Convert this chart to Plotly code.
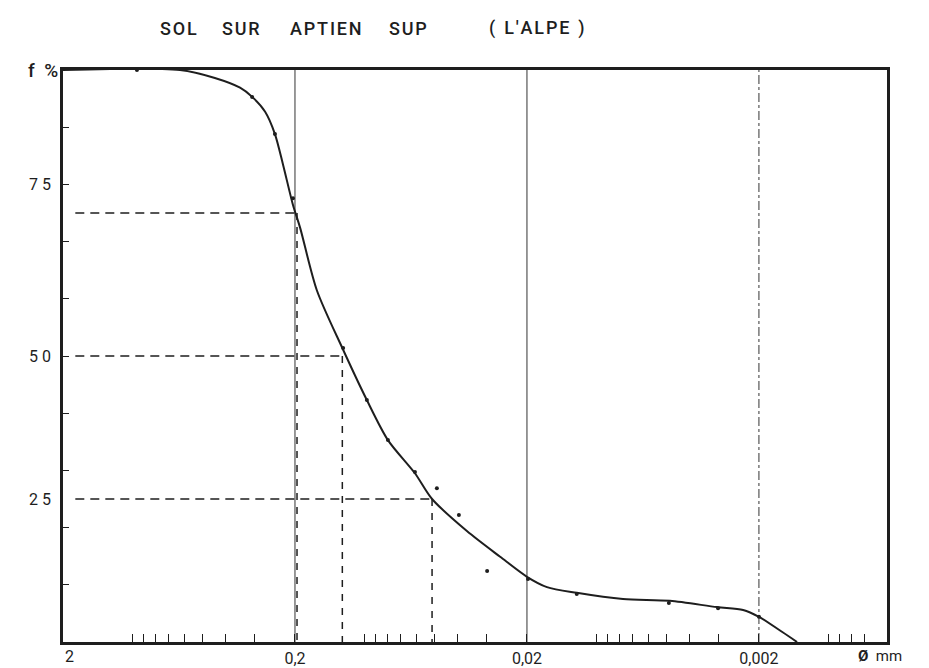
import math
import plotly.graph_objects as go

# ---------------- data ----------------
title_words = ["SOL", "SUR", "APTIEN", "SUP", "( L'ALPE )"]

# measured points (diameter mm, cumulative %)
point_d = [0.96, 0.306, 0.244, 0.204, 0.124, 0.098, 0.0795, 0.0608, 0.0489, 0.0393,
           0.0297, 0.0198, 0.0122, 0.00489, 0.0030, 0.0020]
point_f = [100, 95.3, 88.8, 77.6, 51.4, 42.3, 35.3, 29.7, 26.9, 22.2,
           12.4, 11.0, 8.4, 6.8, 5.9, 4.4]

# smoothed curve
curve_d = [2.0, 0.626, 0.443, 0.345, 0.306, 0.269, 0.244, 0.225, 0.204, 0.190, 0.161,
           0.125, 0.098, 0.0795, 0.0608, 0.0513, 0.0363, 0.0261, 0.020, 0.0164, 0.0122,
           0.00771, 0.00484, 0.00303, 0.00234, 0.0020, 0.00158, 0.00137]
curve_f = [100, 100, 98.6, 96.9, 95.3, 92.7, 88.8, 83.4, 76.4, 72.4, 61.5,
           51.4, 42.3, 35.3, 29.5, 25.0, 19.4, 14.9, 11.4, 9.6, 8.6,
           7.5, 7.2, 6.1, 5.6, 4.4, 1.7, 0.0]

# quartile guide lines (percent, diameter read on curve)
quart_f = [75, 50, 25]
quart_d = [0.196, 0.125, 0.0513]
guide_start_d = 1.77

major_d = [2, 0.2, 0.02, 0.002]
major_text = ["", "0,2", "0,02", "0,002"]
minor_d = [1, 0.9, 0.8, 0.7, 0.6, 0.5, 0.4, 0.3,
           0.1, 0.09, 0.08, 0.07, 0.06, 0.05, 0.04, 0.03,
           0.01, 0.009, 0.008, 0.007, 0.006, 0.005, 0.004, 0.003,
           0.001, 0.0009, 0.0008, 0.0007]
y_ticks = [0, 10, 20, 30, 40, 50, 60, 70, 80, 90, 100]
y_label_pos = [80, 50, 25]
y_label_text = ["7 5", "5 0", "2 5"]

x_min_d = 0.000561
ink = "#1e1e1e"
FONT = "Roboto, Liberation Sans, sans-serif"

W, H = 929, 668
L, R, T, B = 63, 42, 70, 26
plot_w, plot_h = W - L - R, H - T - B

fig = go.Figure()

# decade grid lines
grid_styles = {0.2: "solid", 0.02: "solid", 0.002: "dashdot"}
for d, dash in grid_styles.items():
    fig.add_trace(go.Scatter(x=[d, d], y=[0, 100], mode="lines",
                             line=dict(color="#333333", width=1, dash=dash),
                             hoverinfo="skip", showlegend=False))

# quartile guides
for f, d in zip(quart_f, quart_d):
    fig.add_trace(go.Scatter(x=[guide_start_d, d], y=[f, f], mode="lines",
                             line=dict(color=ink, width=1.5, dash="9px,6px"),
                             hoverinfo="skip", showlegend=False))
    fig.add_trace(go.Scatter(x=[d, d], y=[f, 0], mode="lines",
                             line=dict(color=ink, width=1.5, dash="7px,7px"),
                             hoverinfo="skip", showlegend=False))

# curve
fig.add_trace(go.Scatter(x=curve_d, y=curve_f, mode="lines",
                         line=dict(color=ink, width=2, shape="spline", smoothing=0.8),
                         showlegend=False))
# points
fig.add_trace(go.Scatter(x=point_d, y=point_f, mode="markers",
                         marker=dict(color=ink, size=4),
                         showlegend=False))

tickvals = major_d + minor_d
ticktext = major_text + [""] * len(minor_d)

fig.update_xaxes(type="log", range=[math.log10(2), math.log10(x_min_d)],
                 tickvals=tickvals, ticktext=ticktext,
                 ticks="inside", ticklen=8, tickwidth=1, tickcolor=ink,
                 showline=True, linewidth=2.5, linecolor=ink, mirror=True,
                 showgrid=False, zeroline=False, automargin=False,
                 tickfont=dict(family=FONT, size=16, color=ink))
fig.update_yaxes(range=[0, 100], tickvals=y_ticks, ticktext=[""] * len(y_ticks),
                 ticks="inside", ticklen=6, tickwidth=1, tickcolor=ink,
                 showline=True, linewidth=2.5, linecolor=ink, mirror=True,
                 showgrid=False, zeroline=False, automargin=False)

annotations = []
for v, t in zip(y_label_pos, y_label_text):
    annotations.append(dict(x=0, xref="paper", y=v, yref="y", text=t,
                            xanchor="right", yanchor="middle", xshift=-10,
                            showarrow=False, font=dict(family=FONT, size=16, color=ink)))
annotations.append(dict(x=0, xref="paper", y=100, yref="y", text="f\u00a0\u00a0%",
                        xanchor="right", yanchor="middle", xshift=-3,
                        showarrow=False, font=dict(family=FONT, size=19, color=ink, weight=500)))
annotations.append(dict(x=0, xref="paper", y=0, yref="paper", text="2",
                        xanchor="left", yanchor="top", xshift=0, yshift=-3,
                        showarrow=False, font=dict(family=FONT, size=16, color=ink)))
annotations.append(dict(x=1, xref="paper", y=0, yref="paper", text="<b>Ø</b>\u00a0\u00a0mm",
                        xanchor="center", yanchor="top", xshift=-7, yshift=-3,
                        showarrow=False, font=dict(family=FONT, size=15, color=ink)))

title_x = [158, 220, 288, 387, 487]
for w, px in zip(title_words, title_x):
    parts = w.split(" ")
    spaced = "\u00a0\u00a0".join("\u200a".join(list(p)) for p in parts)
    annotations.append(dict(x=(px - L) / plot_w, xref="paper",
                            y=(H - B - 28) / plot_h, yref="paper",
                            text=spaced, xanchor="left", yanchor="middle", showarrow=False,
                            font=dict(family=FONT, size=18, color=ink, weight=500)))

fig.update_layout(width=W, height=H,
                  margin=dict(l=L, r=R, t=T, b=B),
                  paper_bgcolor="white", plot_bgcolor="white",
                  annotations=annotations, showlegend=False)

fig.write_html("out.html")
